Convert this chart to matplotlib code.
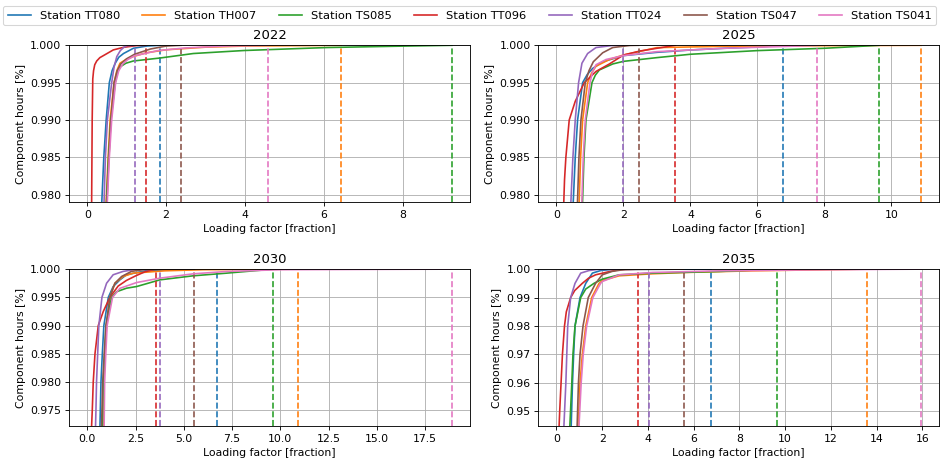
import numpy as np
import matplotlib
matplotlib.use("Agg")
import matplotlib.pyplot as plt

stations = ["TT080", "TH007", "TS085", "TT096", "TT024", "TS047", "TS041"]
colors = ["tab:blue", "tab:orange", "tab:green", "tab:red", "tab:purple", "tab:brown", "tab:pink"]
years = ["2022", "2025", "2030", "2035"]

# max loading factor per station (dashed lines), same order as stations
peak_2022 = [1.85, 6.44, 9.25, 1.48, 1.20, 2.38, 4.59]
peak_2025 = [6.76, 10.89, 9.63, 3.55, 2.00, 2.45, 7.79]
peak_2030 = [6.74, 10.93, 9.62, 3.55, 3.77, 5.54, 18.88]
peak_2035 = [6.76, 13.57, 9.63, 3.55, 4.03, 5.56, 15.95]

# duration curves: loading factor (x) and component hours (y)
x_2022 = {
    "TT080": [0.36, 0.42, 0.48, 0.56, 0.63, 0.71, 0.80, 0.92, 1.17, 1.51, 1.85],
    "TH007": [0.47, 0.53, 0.58, 0.68, 0.75, 0.83, 0.98, 1.17, 1.5, 2.0, 3.0, 4.0, 6.44],
    "TS085": [0.48, 0.54, 0.60, 0.71, 0.76, 0.83, 0.98, 1.17, 1.85, 2.69, 3.97, 6.08, 7.78, 9.25],
    "TT096": [0.11, 0.125, 0.14, 0.16, 0.19, 0.24, 0.32, 0.41, 0.66, 0.92, 1.25, 1.48],
    "TT024": [0.42, 0.46, 0.51, 0.62, 0.68, 0.75, 0.84, 0.92, 1.0, 1.20],
    "TS047": [0.49, 0.55, 0.60, 0.68, 0.76, 0.85, 1.0, 1.2, 1.6, 2.0, 2.38],
    "TS041": [0.50, 0.56, 0.62, 0.72, 0.80, 0.9, 1.03, 1.2, 1.8, 2.5, 3.5, 4.59],
}
y_2022 = {
    "TT080": [0.978, 0.985, 0.990, 0.995, 0.9966, 0.9976, 0.9984, 0.9989, 0.9996, 0.9999, 1.0],
    "TH007": [0.978, 0.985, 0.990, 0.995, 0.9966, 0.9976, 0.9981, 0.9985, 0.9990, 0.9994, 0.99975, 0.9999, 1.0],
    "TS085": [0.978, 0.985, 0.990, 0.995, 0.9963, 0.9971, 0.9976, 0.9979, 0.9983, 0.9989, 0.9993, 0.9997, 0.99987, 1.0],
    "TT096": [0.978, 0.990, 0.9955, 0.9966, 0.9974, 0.9979, 0.99835, 0.99862, 0.99938, 0.99973, 0.99996, 1.0],
    "TT024": [0.978, 0.985, 0.990, 0.995, 0.9971, 0.9985, 0.9993, 0.9997, 0.99995, 1.0],
    "TS047": [0.978, 0.985, 0.990, 0.995, 0.9966, 0.9975, 0.9982, 0.9988, 0.9995, 0.9999, 1.0],
    "TS041": [0.978, 0.985, 0.990, 0.995, 0.9966, 0.9975, 0.9981, 0.9986, 0.9993, 0.99965, 0.9999, 1.0],
}

x_2025 = {
    "TT080": [0.49, 0.56, 0.63, 0.78, 0.92, 1.08, 1.38, 2.0, 3.0, 4.0, 5.0, 6.0, 6.76],
    "TH007": [0.67, 0.72, 0.78, 0.93, 1.05, 1.18, 1.58, 2.0, 3.0, 5.0, 8.0, 10.89],
    "TS085": [0.77, 0.82, 0.88, 1.06, 1.16, 1.28, 1.68, 2.0, 3.0, 4.0, 6.0, 8.0, 9.63],
    "TT096": [0.21, 0.24, 0.28, 0.38, 0.56, 0.83, 1.18, 1.58, 2.0, 2.5, 3.0, 3.55],
    "TT024": [0.42, 0.49, 0.56, 0.66, 0.76, 0.93, 1.18, 1.68, 2.0],
    "TS047": [0.62, 0.67, 0.73, 0.86, 0.97, 1.10, 1.38, 1.68, 2.2, 2.45],
    "TS041": [0.75, 0.80, 0.86, 1.0, 1.08, 1.18, 1.48, 2.0, 3.0, 5.0, 7.0, 7.79],
}
y_2025 = {
    "TT080": [0.978, 0.985, 0.990, 0.995, 0.9961, 0.9969, 0.9978, 0.99862, 0.99906, 0.99937, 0.9996, 0.99978, 1.0],
    "TH007": [0.978, 0.985, 0.990, 0.995, 0.9963, 0.9972, 0.9981, 0.9987, 0.99969, 0.99987, 0.99995, 1.0],
    "TS085": [0.978, 0.985, 0.990, 0.995, 0.9960, 0.9967, 0.9975, 0.99785, 0.99835, 0.9988, 0.99929, 0.9996, 1.0],
    "TT096": [0.978, 0.982, 0.985, 0.990, 0.9925, 0.995, 0.9965, 0.9975, 0.9987, 0.99924, 0.9996, 1.0],
    "TT024": [0.978, 0.985, 0.990, 0.995, 0.9976, 0.9989, 0.9997, 0.99998, 1.0],
    "TS047": [0.978, 0.985, 0.990, 0.995, 0.9966, 0.9978, 0.9990, 0.9997, 0.99998, 1.0],
    "TS041": [0.978, 0.985, 0.990, 0.995, 0.9965, 0.9974, 0.9981, 0.99862, 0.99915, 0.9996, 0.99987, 1.0],
}

x_2030 = {
    "TT080": [0.65, 0.71, 0.78, 0.86, 1.09, 1.34, 1.69, 2.03, 3.0, 4.5, 6.74],
    "TH007": [0.82, 0.86, 0.92, 1.0, 1.17, 1.43, 1.86, 2.38, 4.0, 6.0, 10.93],
    "TS085": [0.78, 0.83, 0.90, 0.97, 1.26, 1.52, 2.03, 2.56, 3.76, 5.49, 7.22, 9.62],
    "TT096": [0.21, 0.26, 0.31, 0.40, 0.57, 0.83, 1.17, 1.60, 2.03, 2.5, 3.0, 3.55],
    "TT024": [0.42, 0.45, 0.48, 0.60, 0.76, 1.0, 1.34, 1.86, 2.5, 3.77],
    "TS047": [0.73, 0.80, 0.88, 0.97, 1.17, 1.43, 1.78, 2.29, 3.0, 5.54],
    "TS041": [0.87, 0.90, 0.96, 1.03, 1.31, 1.69, 2.56, 3.76, 5.49, 7.22, 10.0, 18.88],
}
y_2030 = {
    "TT080": [0.971, 0.980, 0.985, 0.990, 0.995, 0.9969, 0.9981, 0.9990, 0.9997, 0.99995, 1.0],
    "TH007": [0.971, 0.980, 0.985, 0.990, 0.995, 0.9975, 0.9987, 0.99929, 0.9997, 0.9999, 1.0],
    "TS085": [0.971, 0.980, 0.985, 0.990, 0.995, 0.9960, 0.99662, 0.99692, 0.9981, 0.99882, 0.99929, 1.0],
    "TT096": [0.971, 0.975, 0.980, 0.985, 0.990, 0.9925, 0.995, 0.997, 0.998, 0.9988, 0.99955, 1.0],
    "TT024": [0.971, 0.975, 0.980, 0.990, 0.995, 0.9975, 0.999, 0.9996, 0.99995, 1.0],
    "TS047": [0.971, 0.980, 0.985, 0.990, 0.995, 0.9975, 0.9987, 0.9996, 0.99995, 1.0],
    "TS041": [0.971, 0.980, 0.985, 0.990, 0.995, 0.9966, 0.99763, 0.9984, 0.99917, 0.99959, 0.9999, 1.0],
}

x_2035 = {
    "TT080": [0.64, 0.70, 0.75, 0.81, 1.03, 1.28, 1.57, 1.93, 2.4, 4.0, 6.76],
    "TH007": [0.95, 1.03, 1.13, 1.28, 1.54, 1.86, 2.01, 2.74, 4.2, 5.66, 8.58, 13.57],
    "TS085": [0.58, 0.67, 0.72, 0.81, 1.06, 1.28, 1.64, 2.01, 2.74, 4.2, 7.12, 9.63],
    "TT096": [0.11, 0.14, 0.20, 0.26, 0.35, 0.43, 0.62, 0.8, 1.13, 1.4, 1.71, 2.29, 2.74, 3.55],
    "TT024": [0.32, 0.41, 0.45, 0.49, 0.62, 0.81, 1.06, 1.42, 1.8, 4.03],
    "TS047": [0.90, 0.96, 1.03, 1.16, 1.39, 1.71, 2.0, 2.43, 3.0, 5.56],
    "TS041": [0.98, 1.08, 1.17, 1.32, 1.59, 1.93, 2.01, 2.74, 4.2, 7.12, 11.5, 15.95],
}
y_2035 = {
    "TT080": [0.944, 0.960, 0.970, 0.980, 0.990, 0.995, 0.9986, 0.9995, 0.9999, 0.99995, 1.0],
    "TH007": [0.944, 0.960, 0.970, 0.980, 0.990, 0.995, 0.99601, 0.99765, 0.99836, 0.99883, 0.99941, 1.0],
    "TS085": [0.944, 0.960, 0.970, 0.980, 0.990, 0.993, 0.995, 0.9965, 0.9980, 0.99859, 0.99918, 1.0],
    "TT096": [0.944, 0.950, 0.960, 0.970, 0.980, 0.985, 0.990, 0.9925, 0.995, 0.9968, 0.998, 0.9991, 0.9998, 1.0],
    "TT024": [0.944, 0.960, 0.970, 0.980, 0.990, 0.995, 0.9986, 0.9995, 0.9999, 1.0],
    "TS047": [0.944, 0.960, 0.970, 0.980, 0.990, 0.995, 0.998, 0.9992, 0.9999, 1.0],
    "TS041": [0.944, 0.960, 0.970, 0.980, 0.990, 0.995, 0.99566, 0.998, 0.99883, 0.99941, 0.99977, 1.0],
}

ylims = [(0.979, 1.0), (0.979, 1.0), (0.9722, 1.0), (0.9448, 1.0)]

xs = [x_2022, x_2025, x_2030, x_2035]
ys = [y_2022, y_2025, y_2030, y_2035]
peaks = [peak_2022, peak_2025, peak_2030, peak_2035]

dpi = 943 / 12
fig, axes = plt.subplots(2, 2, figsize=(12, 467 / dpi), dpi=dpi)
plt.subplots_adjust(left=0.0732, right=0.9961, bottom=0.0878, top=0.903,
                    wspace=0.17, hspace=0.427)

for ax, year, xd, yd, pk, yl in zip(axes.flat, years, xs, ys, peaks, ylims):
    for st, c, p in zip(stations, colors, pk):
        ax.plot(xd[st], yd[st], color=c, lw=1.5, label="Station " + st)
        ax.axvline(p, ymax=0.98, color=c, ls="--", lw=1.5)
    xmax = max(pk)
    ax.set_xlim(-0.05 * xmax, 1.05 * xmax)
    ax.set_ylim(*yl)
    ax.grid(True)
    ax.set_title(year)
    ax.set_xlabel("Loading factor [fraction]")
    ax.set_ylabel("Component hours [%]")

axes[1, 0].set_xticks(np.arange(0, 18, 2.5))

handles, labels = axes[0, 0].get_legend_handles_labels()
fig.legend(handles, labels, loc="upper left", bbox_to_anchor=(3 / 943, 1 - 6 / 467),
           ncol=7, borderaxespad=0, fontsize=10.5, columnspacing=1.95)

fig.savefig("out.png", dpi=dpi)
